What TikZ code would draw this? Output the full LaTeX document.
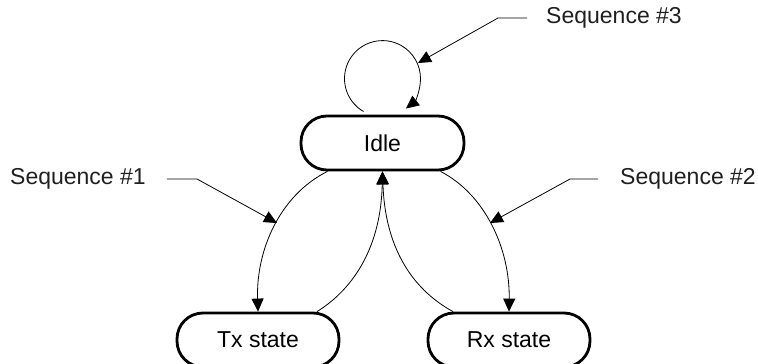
\documentclass[tikz,border=0pt]{standalone}
\usepackage{fontspec}
\setmainfont{Liberation Sans}
\usetikzlibrary{arrows.meta,calc}
\begin{document}
\begin{tikzpicture}[x=1pt,y=1pt,
  state/.style={draw, line width=2.8pt, rounded corners=26pt, minimum height=54pt, inner sep=0pt, font=\fontsize{23}{27}\selectfont},
  lbl/.style={inner sep=0pt, text=black!88, font=\fontsize{23}{27}\selectfont},
  conn/.style={line width=0.8pt, -{Triangle[length=13pt,width=12pt]}},
  lead/.style={line width=0.8pt, -{Triangle[length=13pt,width=12pt]}}]
\useasboundingbox (0,0) rectangle (758,364);
\node[state, minimum width=163pt] (idle) at (382.5,221) {Idle};
\node[state, minimum width=162pt] (tx) at (258,24) {Tx state};
\node[state, minimum width=162pt] (rx) at (509,24) {Rx state};
\node[lbl] (s1) at (78,185) {Sequence \#1};
\node[lbl] (s2) at (688,185) {Sequence \#2};
\node[lbl] (s3) at (614,346) {Sequence \#3};
% self loop
\coordinate (loopc) at ($(idle.north)+(0,36)$);
\draw[conn] ($(loopc)+(240:38)$) arc[start angle=240, end angle=-52, radius=38];
% transitions
\draw[conn] ($(idle.south)+(-55,0)$) .. controls (280,169) and (256,114) .. (tx.north);
\draw[conn] ($(idle.south)+(58,0)$) .. controls (486,169) and (510,114) .. (rx.north);
\draw[conn] ($(tx.north)+(59,0)$) .. controls (355,76) and (381,119) .. (idle.south);
\draw[conn] ($(rx.north)+(-56,0)$) .. controls (410,76) and (385,119) .. (idle.south);
% leaders
\coordinate (t1) at (277,141);
\coordinate (t2) at (490,141);
\coordinate (t3) at (418,301);
\draw[lead] ($(s1.east)+(21,0)$) -- ++(30,0) -- (t1);
\draw[lead] ($(s2.west)+(-22,0)$) -- ++(-28,0) -- (t2);
\draw[lead] ($(s3.west)+(-19,0)$) -- ++(-29,0) -- (t3);
\end{tikzpicture}
\end{document}
